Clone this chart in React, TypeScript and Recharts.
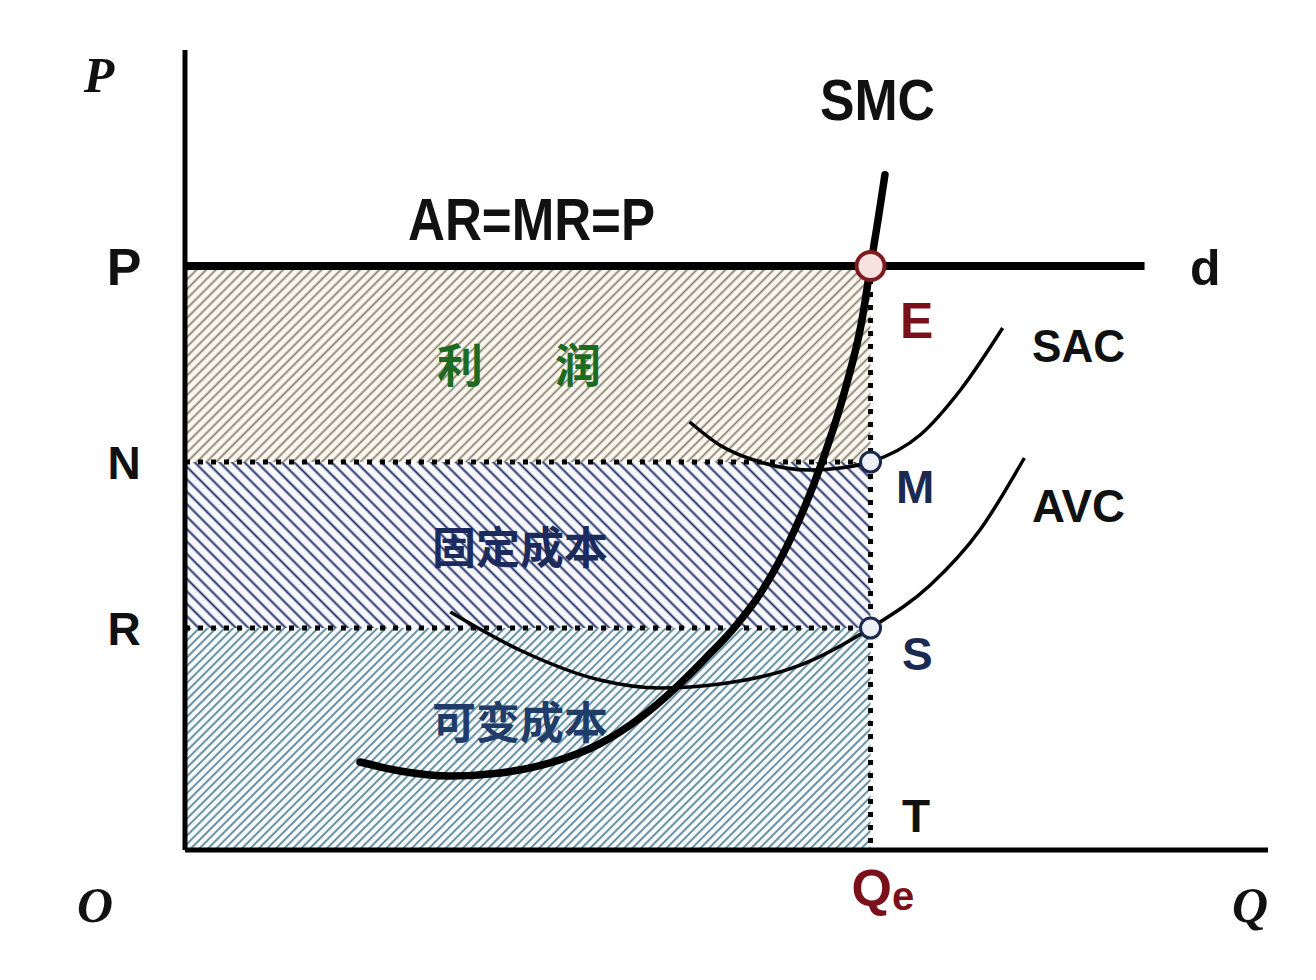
import React from "react";
import {
  ComposedChart,
  Line,
  XAxis,
  YAxis,
  ReferenceArea,
  ReferenceLine,
  ReferenceDot,
} from "recharts";

// ---- data (Q on x, P on y; arbitrary units 0..100) ----
const P_LEVEL = 73;
const N_LEVEL = 48.5;
const R_LEVEL = 27.75;
const QE = 63.3;
const D_END = 88.6;

const yTickValues = [P_LEVEL, N_LEVEL, R_LEVEL];
const yTickLabels = ["P", "N", "R"];

const smcData = [
  { q: 16.16, p: 11 },
  { q: 19.85, p: 9.88 },
  { q: 24.47, p: 9.25 },
  { q: 29.09, p: 9.63 },
  { q: 33.7, p: 10.88 },
  { q: 38.32, p: 13.3 },
  { q: 42.01, p: 16.5 },
  { q: 45.24, p: 20.2 },
  { q: 48.01, p: 23.9 },
  { q: 50.78, p: 27.9 },
  { q: 53.09, p: 32 },
  { q: 55.86, p: 38.75 },
  { q: 58.82, p: 48.5 },
  { q: 60.94, p: 57.5 },
  { q: 62.51, p: 66.25 },
  { q: 63.3, p: 73 },
  { q: 63.99, p: 78.75 },
  { q: 64.63, p: 84.4 },
];

const sacData = [
  { q: 46.6, p: 53.5 },
  { q: 49.4, p: 50.6 },
  { q: 53.1, p: 48.5 },
  { q: 57.7, p: 47.5 },
  { q: 60.5, p: 47.75 },
  { q: 63.3, p: 48.5 },
  { q: 67.9, p: 51.9 },
  { q: 71.6, p: 57.5 },
  { q: 75.5, p: 65.25 },
];

const avcData = [
  { q: 24.5, p: 29.75 },
  { q: 30.9, p: 25 },
  { q: 38.3, p: 21.25 },
  { q: 43.8, p: 20.25 },
  { q: 49.4, p: 20.75 },
  { q: 56.8, p: 23.1 },
  { q: 63.3, p: 27.75 },
  { q: 68.8, p: 33.1 },
  { q: 73.4, p: 40 },
  { q: 77.5, p: 49 },
];

const SANS = "'Liberation Sans', Arial, sans-serif";
const SERIF = "'Liberation Serif', 'Times New Roman', serif";
const CJK = "'Noto Sans CJK SC', 'Noto Sans CJK JP', sans-serif";

const YTick = (props: any) => {
  const idx = yTickValues.indexOf(props.payload.value);
  const label = yTickLabels[idx] ?? "";
  const size = label === "P" ? 52 : 46;
  return (
    <text
      x={124}
      y={props.y + size * 0.36}
      textAnchor="middle"
      fontFamily={SANS}
      fontWeight="bold"
      fontSize={size}
      fill="#111"
    >
      {label}
    </text>
  );
};

const XTick = (props: any) => {
  if (Math.abs(props.payload.value - QE) > 0.01) return null;
  return (
    <text
      x={props.x - 19}
      y={906}
      fontFamily={SANS}
      fontWeight="bold"
      fontSize={52}
      fill="#7a1019"
    >
      Q
      <tspan fontSize={40} dy={4}>
        e
      </tspan>
    </text>
  );
};

const profitLabel = () => (
  <g>
    <text x={437} y={382} fontFamily={CJK} fontWeight="bold" fontSize={46} fill="#1d6b22">利</text>
    <text x={555} y={382} fontFamily={CJK} fontWeight="bold" fontSize={46} fill="#1d6b22">润</text>
  </g>
);
const fixedLabel = () => (
  <text x={432} y={564} fontFamily={CJK} fontWeight="bold" fontSize={44} fill="#1c2a5c">固定成本</text>
);
const varLabel = () => (
  <text x={432} y={739} fontFamily={CJK} fontWeight="bold" fontSize={44} fill="#1f3d68">可变成本</text>
);

export default function App() {
  return (
    <div
      style={{
        position: "absolute",
        left: 0,
        top: 0,
        width: 1316,
        height: 980,
        background: "#fff",
      }}
    >
      <ComposedChart
        width={1316}
        height={980}
        margin={{ top: 50, right: 48, left: 0, bottom: 0 }}
      >
        <defs>
          <pattern
            id="hatchProfit"
            patternUnits="userSpaceOnUse"
            width={6.8}
            height={6.8}
            patternTransform="rotate(45)"
          >
            <rect width={6.8} height={6.8} fill="#faf8f1" />
            <line x1={3.4} y1={0} x2={3.4} y2={6.8} stroke="#857a66" strokeWidth={1.7} />
          </pattern>
          <pattern
            id="hatchFixed"
            patternUnits="userSpaceOnUse"
            width={8.8}
            height={8.8}
            patternTransform="rotate(-45)"
          >
            <rect width={8.8} height={8.8} fill="#f7f8fc" />
            <line x1={4.4} y1={0} x2={4.4} y2={8.8} stroke="#26356a" strokeWidth={2} />
          </pattern>
          <pattern
            id="hatchVar"
            patternUnits="userSpaceOnUse"
            width={6}
            height={6}
            patternTransform="rotate(45)"
          >
            <rect width={6} height={6} fill="#f6f9fa" />
            <line x1={3} y1={0} x2={3} y2={6} stroke="#487a8f" strokeWidth={1.6} />
          </pattern>
        </defs>

        <XAxis
          type="number"
          dataKey="q"
          domain={[0, 100]}
          ticks={[QE]}
          allowDataOverflow
          height={130}
          axisLine={{ stroke: "#000", strokeWidth: 5 }}
          tickLine={false}
          tick={<XTick />}
        />
        <YAxis
          type="number"
          dataKey="p"
          domain={[0, 100]}
          ticks={yTickValues}
          allowDataOverflow
          width={185}
          axisLine={{ stroke: "#000", strokeWidth: 5 }}
          tickLine={false}
          tick={<YTick />}
        />

        <ReferenceArea x1={0} x2={QE} y1={N_LEVEL} y2={P_LEVEL} fill="url(#hatchProfit)" fillOpacity={1} stroke="none" label={profitLabel} />
        <ReferenceArea x1={0} x2={QE} y1={R_LEVEL} y2={N_LEVEL} fill="url(#hatchFixed)" fillOpacity={1} stroke="none" label={fixedLabel} />
        <ReferenceArea x1={0} x2={QE} y1={0} y2={R_LEVEL} fill="url(#hatchVar)" fillOpacity={1} stroke="none" label={varLabel} />

        <ReferenceLine
          segment={[{ x: 0, y: N_LEVEL }, { x: QE, y: N_LEVEL }]}
          stroke="#000"
          strokeWidth={5}
          strokeDasharray="5 8"
        />
        <ReferenceLine
          segment={[{ x: 0, y: R_LEVEL }, { x: QE, y: R_LEVEL }]}
          stroke="#000"
          strokeWidth={5}
          strokeDasharray="5 8"
        />
        <ReferenceLine
          segment={[{ x: QE, y: P_LEVEL }, { x: QE, y: 0 }]}
          stroke="#000"
          strokeWidth={5}
          strokeDasharray="5 8"
        />

        <Line
          data={sacData}
          dataKey="p"
          type="monotone"
          stroke="#000"
          strokeWidth={3.5}
          dot={false}
          isAnimationActive={false}
        />
        <Line
          data={avcData}
          dataKey="p"
          type="monotone"
          stroke="#000"
          strokeWidth={3.5}
          dot={false}
          isAnimationActive={false}
        />
        <Line
          data={smcData}
          dataKey="p"
          type="monotone"
          stroke="#000"
          strokeWidth={7.5}
          strokeLinecap="round"
          dot={false}
          isAnimationActive={false}
        />

        <ReferenceLine
          segment={[{ x: 0, y: P_LEVEL }, { x: D_END, y: P_LEVEL }]}
          stroke="#000"
          strokeWidth={8}
        />

        <ReferenceDot x={QE} y={P_LEVEL} r={14} fill="#f8e2df" stroke="#7d1b1f" strokeWidth={4} />
        <ReferenceDot x={QE} y={N_LEVEL} r={10} fill="#eef0f7" stroke="#1b2a4c" strokeWidth={3} />
        <ReferenceDot x={QE} y={R_LEVEL} r={10} fill="#eef0f7" stroke="#1b2a4c" strokeWidth={3} />

        {/* axis titles */}
        <text x={99} y={92} textAnchor="middle" fontFamily={SERIF} fontStyle="italic" fontWeight="bold" fontSize={50} fill="#111">P</text>
        <text x={95} y={922} textAnchor="middle" fontFamily={SERIF} fontStyle="italic" fontWeight="bold" fontSize={50} fill="#111">O</text>
        <text x={1250} y={922} textAnchor="middle" fontFamily={SERIF} fontStyle="italic" fontWeight="bold" fontSize={50} fill="#111">Q</text>

        {/* curve labels */}
        <text x={820} y={120} fontFamily={SANS} fontWeight="bold" fontSize={58} textLength={115} lengthAdjust="spacingAndGlyphs" fill="#111">SMC</text>
        <text x={408} y={240} fontFamily={SANS} fontWeight="bold" fontSize={60} textLength={247} lengthAdjust="spacingAndGlyphs" fill="#111">AR=MR=P</text>
        <text x={1190} y={285} fontFamily={SANS} fontWeight="bold" fontSize={50} fill="#111">d</text>
        <text x={1032} y={362} fontFamily={SANS} fontWeight="bold" fontSize={46} textLength={93} lengthAdjust="spacingAndGlyphs" fill="#111">SAC</text>
        <text x={1032} y={522} fontFamily={SANS} fontWeight="bold" fontSize={46} textLength={93} lengthAdjust="spacingAndGlyphs" fill="#111">AVC</text>

        {/* point labels */}
        <text x={900} y={338} fontFamily={SANS} fontWeight="bold" fontSize={50} fill="#7a1019">E</text>
        <text x={896} y={503} fontFamily={SANS} fontWeight="bold" fontSize={46} fill="#1a2a50">M</text>
        <text x={902} y={670} fontFamily={SANS} fontWeight="bold" fontSize={46} fill="#1a2a50">S</text>
        <text x={902} y={832} fontFamily={SANS} fontWeight="bold" fontSize={46} fill="#111">T</text>
      </ComposedChart>
    </div>
  );
}
